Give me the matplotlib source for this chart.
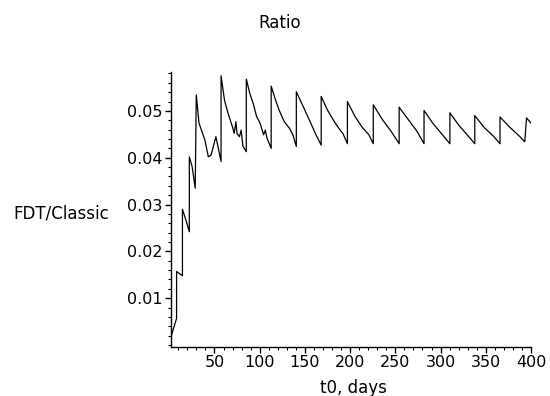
"""Ratio FDT/Classic against t0 (days), Maple-style line plot."""
import matplotlib

matplotlib.use("Agg")
import matplotlib.pyplot as plt  # noqa: E402
from matplotlib.ticker import MultipleLocator  # noqa: E402

plt.rcParams["font.family"] = ["DejaVu Sans"]

# values
t0_days = [
    2, 8.1, 8.1, 14.6, 14.6, 18.4, 22.2, 22.2, 25.3, 28.7, 29.9, 32.9, 35.6,
    39.4, 43.2, 46.3, 51.6, 57.3, 57.3, 61.1, 65.0, 69.9, 71.8, 73.7, 74.9,
    77.6, 79.5, 81.4, 85.2, 85.2, 89.0, 92.8, 96.6, 100.4, 104.3, 106.2,
    108.1, 112.7, 112.7, 117.6, 121.4, 127.2, 132.9, 136.7, 140.5, 140.5,
    148.2, 155.8, 161.5, 168.0, 168.0, 174.9, 182.5, 190.1, 192.0, 197.0,
    197.0, 205.4, 213.0, 220.7, 225.6, 225.6, 235.9, 245.5, 254.2, 254.2,
    264.5, 274.1, 281.7, 281.7, 291.3, 300.8, 310.3, 310.3, 319.9, 329.4,
    337.8, 337.8, 348.5, 358.0, 365.7, 365.7, 377.1, 386.7, 393.1, 395.0,
    400.0,
]
ratio = [
    0.0018, 0.0057, 0.0157, 0.0148, 0.0290, 0.0267, 0.0242, 0.0402, 0.0381,
    0.0335, 0.0534, 0.0474, 0.0459, 0.0438, 0.0402, 0.0406, 0.0445, 0.0392,
    0.0575, 0.0523, 0.0495, 0.0466, 0.0452, 0.0477, 0.0452, 0.0445, 0.0459,
    0.0425, 0.0413, 0.0568, 0.0538, 0.0516, 0.0488, 0.0474, 0.0449, 0.0459,
    0.0442, 0.0420, 0.0553, 0.0523, 0.0502, 0.0477, 0.0463, 0.0449, 0.0424,
    0.0541, 0.0509, 0.0477, 0.0452, 0.0427, 0.0531, 0.0502, 0.0477, 0.0456,
    0.0452, 0.0430, 0.0520, 0.0488, 0.0466, 0.0449, 0.0430, 0.0513, 0.0481,
    0.0456, 0.0430, 0.0508, 0.0481, 0.0456, 0.0430, 0.0501, 0.0474, 0.0452,
    0.0430, 0.0496, 0.0470, 0.0449, 0.0430, 0.0490, 0.0464, 0.0447, 0.0430,
    0.0487, 0.0464, 0.0447, 0.0434, 0.0485, 0.0474,
]

fig = plt.figure(figsize=(5.5, 3.96), dpi=100)
ax = fig.add_axes([0.311, 0.124, 0.6545, 0.694])
ax.plot(t0_days, ratio, color="black", linewidth=0.9)

ax.set_xlim(2, 400)
ax.set_ylim(-0.0004, 0.0583)
ax.xaxis.set_minor_locator(MultipleLocator(10))
ax.yaxis.set_minor_locator(MultipleLocator(0.002))
ax.set_xticks([50, 100, 150, 200, 250, 300, 350, 400])
ax.set_yticks([0.01, 0.02, 0.03, 0.04, 0.05])
ax.set_yticklabels(["0.01", "0.02", "0.03", "0.04", "0.05"])

for side in ("top", "right"):
    ax.spines[side].set_visible(False)
for side in ("left", "bottom"):
    ax.spines[side].set_linewidth(1.0)
ax.tick_params(which="major", length=4, width=1.0, labelsize=11.5,
               colors="black", pad=2)
ax.tick_params(which="minor", length=2, width=0.8)

fig.text(0.509, 0.942, "Ratio", ha="center", va="center", fontsize=12)
fig.text(0.198, 0.46, "FDT/Classic", ha="right", va="center", fontsize=12)
fig.text(0.642, 0.02, "t0, days", ha="center", va="center", fontsize=12)

fig.savefig("out.png", dpi=100)
plt.close(fig)
